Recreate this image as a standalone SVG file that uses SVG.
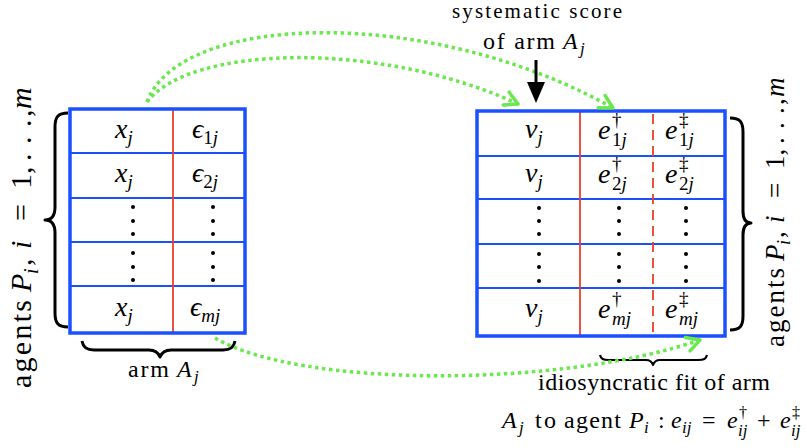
<svg xmlns="http://www.w3.org/2000/svg" width="807" height="448" viewBox="0 0 807 448" font-family="'Liberation Serif', 'Times New Roman', Times, 'DejaVu Serif', 'Noto Serif', serif">
<style>
.tb{fill:none;stroke:#1a50ff;stroke-width:3.5}
.rl{stroke:#1a50ff;stroke-width:1.8}
.red{stroke:#e8402c;stroke-width:1.8}
.redd{stroke:#e8402c;stroke-width:1.8;stroke-dasharray:10 6}
.m{font-family:'Liberation Serif','Times New Roman',Times,'DejaVu Serif',serif;font-style:italic;font-size:28px;fill:#000}
.s{font-size:19px}
.u{font-style:normal}
.lbl{font-family:'Liberation Serif','Times New Roman',Times,'DejaVu Serif',serif;font-size:24px;fill:#000}
.li{font-style:italic}
.gr{fill:none;stroke:#6ae84e;stroke-width:3.5;stroke-dasharray:3.5 3.5}
.br{fill:none;stroke:#000;stroke-width:3;stroke-linejoin:round}
.dot{fill:#000}
</style>
<defs>
<marker id="ga" markerUnits="userSpaceOnUse" markerWidth="30" markerHeight="30" viewBox="-20 -15 30 30" refX="0" refY="0" orient="auto" overflow="visible">
<path d="M-13,-7 L0,0 L-13,7" fill="none" stroke="#6ae84e" stroke-width="3.5" stroke-linecap="round" stroke-linejoin="round"/>
</marker>
</defs>

<g id="left-table">
<line class="rl" x1="70" y1="153" x2="245" y2="153"/>
<line class="rl" x1="70" y1="198" x2="245" y2="198"/>
<line class="rl" x1="70" y1="242" x2="245" y2="242"/>
<line class="rl" x1="70" y1="286" x2="245" y2="286"/>
<line class="red" x1="173" y1="109" x2="173" y2="333"/>
<rect class="tb" x="70" y="109" width="175" height="224"/>
<text class="m" x="115" y="138">x<tspan class="s" dy="6">j</tspan></text>
<text class="m" x="115" y="182">x<tspan class="s" dy="6">j</tspan></text>
<text class="m" x="115" y="316">x<tspan class="s" dy="6">j</tspan></text>
<text class="m" x="192" y="138">ϵ<tspan class="s u" dy="6">1</tspan><tspan class="s">j</tspan></text>
<text class="m" x="192" y="182">ϵ<tspan class="s u" dy="6">2</tspan><tspan class="s">j</tspan></text>
<text class="m" x="190" y="316">ϵ<tspan class="s" dy="6">mj</tspan></text>
<circle class="dot" cx="133" cy="207" r="2"/><circle class="dot" cx="133" cy="221" r="2"/><circle class="dot" cx="133" cy="234" r="2"/>
<circle class="dot" cx="213" cy="207" r="2"/><circle class="dot" cx="213" cy="221" r="2"/><circle class="dot" cx="213" cy="234" r="2"/>
<circle class="dot" cx="133" cy="253" r="2"/><circle class="dot" cx="133" cy="267" r="2"/><circle class="dot" cx="133" cy="280" r="2"/>
<circle class="dot" cx="213" cy="253" r="2"/><circle class="dot" cx="213" cy="267" r="2"/><circle class="dot" cx="213" cy="280" r="2"/>
</g>

<g id="right-table">
<line class="rl" x1="477" y1="156" x2="725" y2="156"/>
<line class="rl" x1="477" y1="199" x2="725" y2="199"/>
<line class="rl" x1="477" y1="244" x2="725" y2="244"/>
<line class="rl" x1="477" y1="288" x2="725" y2="288"/>
<line class="red" x1="580" y1="111" x2="580" y2="336"/>
<line class="redd" x1="653" y1="114" x2="653" y2="336"/>
<rect class="tb" x="477" y="111" width="248" height="225"/>
<text class="m" x="525" y="138">v<tspan class="s" dy="6">j</tspan></text>
<text class="m" x="525" y="182">v<tspan class="s" dy="6">j</tspan></text>
<text class="m" x="525" y="317">v<tspan class="s" dy="6">j</tspan></text>
<text class="m" x="598" y="139">e</text><text class="m s u" x="612" y="126">†</text><text class="m s" x="612" y="146"><tspan class="u">1</tspan>j</text>
<text class="m" x="665" y="139">e</text><text class="m s u" x="679" y="126">‡</text><text class="m s" x="679" y="146"><tspan class="u">1</tspan>j</text>
<text class="m" x="598" y="183">e</text><text class="m s u" x="612" y="170">†</text><text class="m s" x="612" y="190"><tspan class="u">2</tspan>j</text>
<text class="m" x="665" y="183">e</text><text class="m s u" x="679" y="170">‡</text><text class="m s" x="679" y="190"><tspan class="u">2</tspan>j</text>
<text class="m" x="598" y="318">e</text><text class="m s u" x="612" y="305">†</text><text class="m s" x="612" y="325">mj</text>
<text class="m" x="665" y="318">e</text><text class="m s u" x="679" y="305">‡</text><text class="m s" x="679" y="325">mj</text>
<circle class="dot" cx="539" cy="208" r="2"/><circle class="dot" cx="539" cy="221" r="2"/><circle class="dot" cx="539" cy="234" r="2"/>
<circle class="dot" cx="619" cy="208" r="2"/><circle class="dot" cx="619" cy="221" r="2"/><circle class="dot" cx="619" cy="234" r="2"/>
<circle class="dot" cx="686" cy="208" r="2"/><circle class="dot" cx="686" cy="221" r="2"/><circle class="dot" cx="686" cy="234" r="2"/>
<circle class="dot" cx="539" cy="254" r="2"/><circle class="dot" cx="539" cy="267" r="2"/><circle class="dot" cx="539" cy="281" r="2"/>
<circle class="dot" cx="619" cy="254" r="2"/><circle class="dot" cx="619" cy="267" r="2"/><circle class="dot" cx="619" cy="281" r="2"/>
<circle class="dot" cx="686" cy="254" r="2"/><circle class="dot" cx="686" cy="267" r="2"/><circle class="dot" cx="686" cy="281" r="2"/>
</g>

<g id="left-agents">
<path class="br" d="M68,113 C58,113 55,117 55,127 L55,207 C55,215 52,220 45,220 C52,220 55,225 55,233 L55,313 C55,323 58,327 68,327"/>
<g transform="translate(31,388) rotate(-90)">
<text class="lbl" style="font-size:30px" x="0" y="0" textLength="88" lengthAdjust="spacing">agents</text>
<text class="lbl li" style="font-size:30px" x="96" y="0">P</text>
<text class="lbl li" style="font-size:20px" x="114" y="7">i</text>
<text class="lbl" style="font-size:30px" x="122" y="0">,</text>
<text class="lbl li" style="font-size:30px" x="139" y="0">i</text>
<text class="lbl" style="font-size:30px" x="167" y="0">=</text>
<text class="lbl" style="font-size:30px" x="199" y="0">1,</text>
<text class="lbl" style="font-size:30px" x="227" y="0">.</text>
<text class="lbl" style="font-size:30px" x="244" y="0">.</text>
<text class="lbl" style="font-size:30px" x="261" y="0">.</text>
<text class="lbl" style="font-size:30px" x="271" y="0">,</text>
<text class="lbl li" style="font-size:30px" x="279" y="0">m</text>
</g>
</g>

<g id="right-agents">
<path class="br" d="M730,118 C740,118 743,122 743,132 L743,211 C743,219 746,223 751,223 C746,223 743,227 743,235 L743,316 C743,326 740,330 730,330"/>
<g transform="translate(784,347) rotate(-90)">
<text class="lbl" style="font-size:27px" x="0" y="0" textLength="79" lengthAdjust="spacing">agents</text>
<text class="lbl li" style="font-size:27px" x="86" y="0">P</text>
<text class="lbl li" style="font-size:18px" x="102" y="6">i</text>
<text class="lbl" style="font-size:27px" x="109" y="0">,</text>
<text class="lbl li" style="font-size:27px" x="124" y="0">i</text>
<text class="lbl" style="font-size:27px" x="149" y="0">=</text>
<text class="lbl" style="font-size:27px" x="178" y="0">1,</text>
<text class="lbl" style="font-size:27px" x="203" y="0">.</text>
<text class="lbl" style="font-size:27px" x="218" y="0">.</text>
<text class="lbl" style="font-size:27px" x="233" y="0">.</text>
<text class="lbl" style="font-size:27px" x="242" y="0">,</text>
<text class="lbl li" style="font-size:27px" x="250" y="0">m</text>
</g>
</g>

<g id="arm-label">
<path class="br" d="M82,341 C83,347 86,350 94,350 L149,350 C155,350 158,352 160,357 C162,352 165,350 171,350 L223,350 C231,350 234,347 235,341"/>
<text class="lbl" x="128" y="377" textLength="41" lengthAdjust="spacing">arm</text>
<text class="lbl li" x="177" y="377">A</text>
<text class="lbl li" style="font-size:17px" x="194" y="382">j</text>
</g>

<g id="systematic-label">
<text class="lbl" style="font-size:21px" x="452" y="18" textLength="170" lengthAdjust="spacing">systematic score</text>
<text class="lbl" x="483" y="49" textLength="72" lengthAdjust="spacing">of arm</text>
<text class="lbl li" x="563" y="49">A</text>
<text class="lbl li" style="font-size:17px" x="580" y="54">j</text>
</g>

<g id="idio-label">
<path class="br" style="stroke-width:2.2" d="M600,355 C601,359 603,360 609,360 L646,360 C650,360 652,362 653,365 C654,362 656,360 660,360 L698,360 C704,360 706,359 707,355"/>
<text class="lbl" x="538" y="390" textLength="232" lengthAdjust="spacing">idiosyncratic fit of arm</text>
<text class="lbl li" x="502" y="428">A</text>
<text class="lbl li" style="font-size:17px" x="519" y="433">j</text>
<text class="lbl" x="535" y="428" textLength="21" lengthAdjust="spacing">to</text>
<text class="lbl" x="564" y="428" textLength="57" lengthAdjust="spacing">agent</text>
<text class="lbl li" x="629" y="428">P</text>
<text class="lbl li" style="font-size:17px" x="644" y="433">i</text>
<text class="lbl" x="658" y="428">:</text>
<text class="lbl li" x="671" y="428">e</text>
<text class="lbl li" style="font-size:17px" x="682" y="433">ij</text>
<text class="lbl" x="702" y="428">=</text>
<text class="lbl li" x="727" y="428">e</text>
<text class="lbl" style="font-size:16px" x="739" y="418">†</text>
<text class="lbl li" style="font-size:17px" x="738" y="436">ij</text>
<text class="lbl" x="757" y="428">+</text>
<text class="lbl li" x="780" y="428">e</text>
<text class="lbl" style="font-size:16px" x="792" y="418">‡</text>
<text class="lbl li" style="font-size:17px" x="791" y="436">ij</text>
</g>

<g id="connectors">
<path class="gr" d="M147,102 C190,45 380,40 518,104" marker-end="url(#ga)"/>
<path class="gr" d="M147,102 C180,12 430,5 613,108" marker-end="url(#ga)"/>
<path class="gr" d="M215,338 C300,388 560,388 700,340" marker-end="url(#ga)"/>
<line x1="536" y1="60" x2="536" y2="85" stroke="#000" stroke-width="3"/>
<polygon points="527,82 545,82 536,103" fill="#000"/>
</g>
</svg>
